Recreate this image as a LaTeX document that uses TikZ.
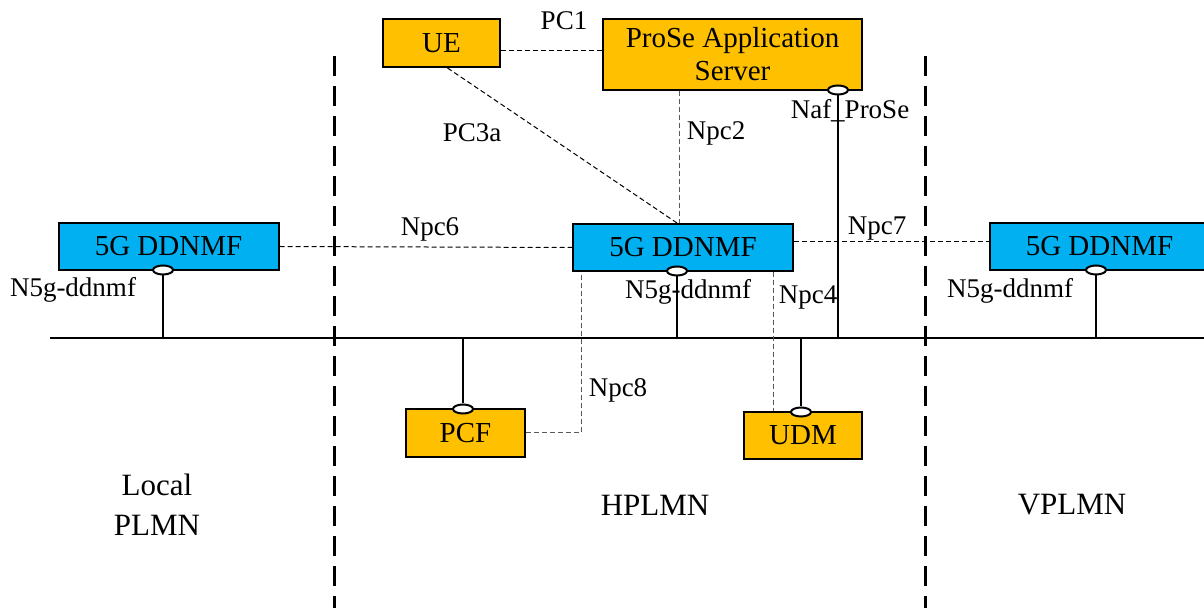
\documentclass[tikz,border=0pt]{standalone}
\usepackage{fontspec}
\setmainfont{Liberation Serif}
\usepackage{xcolor}
\usepackage{tikz}
\usetikzlibrary{shapes,shapes.geometric}
\usetikzlibrary{calc,positioning}
\definecolor{nfgold}{HTML}{FFC000}
\definecolor{nfblue}{HTML}{00B0F0}
\tikzset{
  nf/.style={rectangle, draw, line width=1pt, inner sep=0pt, align=center, font=\fontsize{14.5}{16.5}\selectfont},
  nf_g/.style = {nf, fill=nfgold},
  nf_b/.style = {nf, fill=nfblue, minimum width=110pt, minimum height=23.5pt},
  port/.style = {ellipse, draw, fill=white, line width=1pt, inner sep=0pt, minimum width=10pt, minimum height=4.5pt},
  stem/.style = {line width=1pt},
  bus/.style = {line width=1.2pt},
  iface/.style = {line width=0.5pt, dash pattern=on 2.5pt off 1.5pt},
  iface_g/.style = {iface, black!65},
  border/.style = {line width=1.5pt, dash pattern=on 10pt off 5pt},
  lbl/.style = {inner sep=0pt, font=\fontsize{13.5}{15}\selectfont},
  plmn/.style = {inner sep=0pt, align=center, font=\fontsize{15.5}{20}\selectfont}
}

\begin{document}
\begin{tikzpicture}[x=0.5pt,y=-0.5pt]
	\useasboundingbox (0,0) rectangle (1204,608);
	% separators and bus
	\coordinate (s1t) at (334,56); \coordinate (s1b) at (334,608);
	\coordinate (s2t) at (925,56); \coordinate (s2b) at (925,608);
	\coordinate (busl) at (50,338); \coordinate (busr) at (1204,338);
	\draw[border] (s1t) -- (s1b);
	\draw[border] (s2t) -- (s2b);
	\draw[bus] (busl) -- (busr);
	% network functions
	\node[nf_g, minimum width=58.5pt, minimum height=24pt] (ue) at (441.5,43) {UE};
	\node[nf_g, minimum width=129.5pt, minimum height=35.5pt] (as) at (732.5,54.5) {ProSe Application\\Server};
	\node[nf_b] (ddl) at (168.5,246.5) {5G DDNMF};
	\node[nf_b] (dd) at (683,247.5) {5G DDNMF};
	\node[nf_b] (ddr) at (1099.5,246.5) {5G DDNMF};
	\node[nf_g, minimum width=59.5pt, minimum height=24pt] (pcf) at (465.5,433) {PCF};
	\node[nf_g, minimum width=59pt, minimum height=23.5pt] (udm) at (803,435.5) {UDM};
	% service interfaces
	\node[port] (as-p) at (838,90) {};
	\node[port] (ddl-p) at (163,270) {};
	\node[port] (dd-p) at (677,271) {};
	\node[port] (ddr-p) at (1096,270) {};
	\node[port] (pcf-p) at (463,409) {};
	\node[port] (udm-p) at (801,412) {};
	\draw[stem] (as-p.south) -- (as-p.south |- busl);
	\draw[stem] (ddl-p.south) -- (ddl-p.south |- busl);
	\draw[stem] (dd-p.south) -- (dd-p.south |- busl);
	\draw[stem] (ddr-p.south) -- (ddr-p.south |- busl);
	\draw[stem] (pcf-p.north) -- (pcf-p.north |- busl);
	\draw[stem] (udm-p.north) -- (udm-p.north |- busl);
	% reference points
	\draw[iface] ([yshift=-4pt]ue.east) -- ([yshift=-4pt]ue.east -| as.west);
	\draw[iface] ([xshift=3pt]ue.south) -- ([xshift=-3pt]dd.north);
	\draw[iface_g] ([xshift=-2pt]dd.north |- as.south) -- ([xshift=-2pt]dd.north);
	\draw[iface] (ddl.east) -- (dd.west);
	\draw[iface] ([yshift=3pt]dd.east) -- ([yshift=3pt]dd.east -| ddr.west);
	\draw[iface_g] (pcf.east) -| ([xshift=4.5pt]dd.south west);
	\draw[iface_g] ([xshift=-10.5pt]dd.south east) -- ([xshift=-10.5pt]dd.south east |- udm.north);
	% labels
	\node[lbl] (l-pc1) at (564,21) {PC1};
	\node[lbl] (l-pc3a) at (472,133) {PC3a};
	\node[lbl] (l-npc2) at (716,133) {Npc2};
	\node[lbl] (l-naf) at (850,111) {Naf\_ProSe};
	\node[lbl] (l-npc6) at (430,229) {Npc6};
	\node[lbl] (l-npc7) at (877,229) {Npc7};
	\node[lbl] (l-n5l) at (73,290) {N5g-ddnmf};
	\node[lbl] (l-n5) at (688,292) {N5g-ddnmf};
	\node[lbl] (l-n5r) at (1010,291) {N5g-ddnmf};
	\node[lbl] (l-npc4) at (808,297) {Npc4};
	\node[lbl] (l-npc8) at (618,390) {Npc8};
	\node[plmn] (local) at (157,505) {Local\\PLMN};
	\node[plmn] (hplmn) at (655,505) {HPLMN};
	\node[plmn] (vplmn) at (1072,505) {VPLMN};
\end{tikzpicture}
\end{document}
